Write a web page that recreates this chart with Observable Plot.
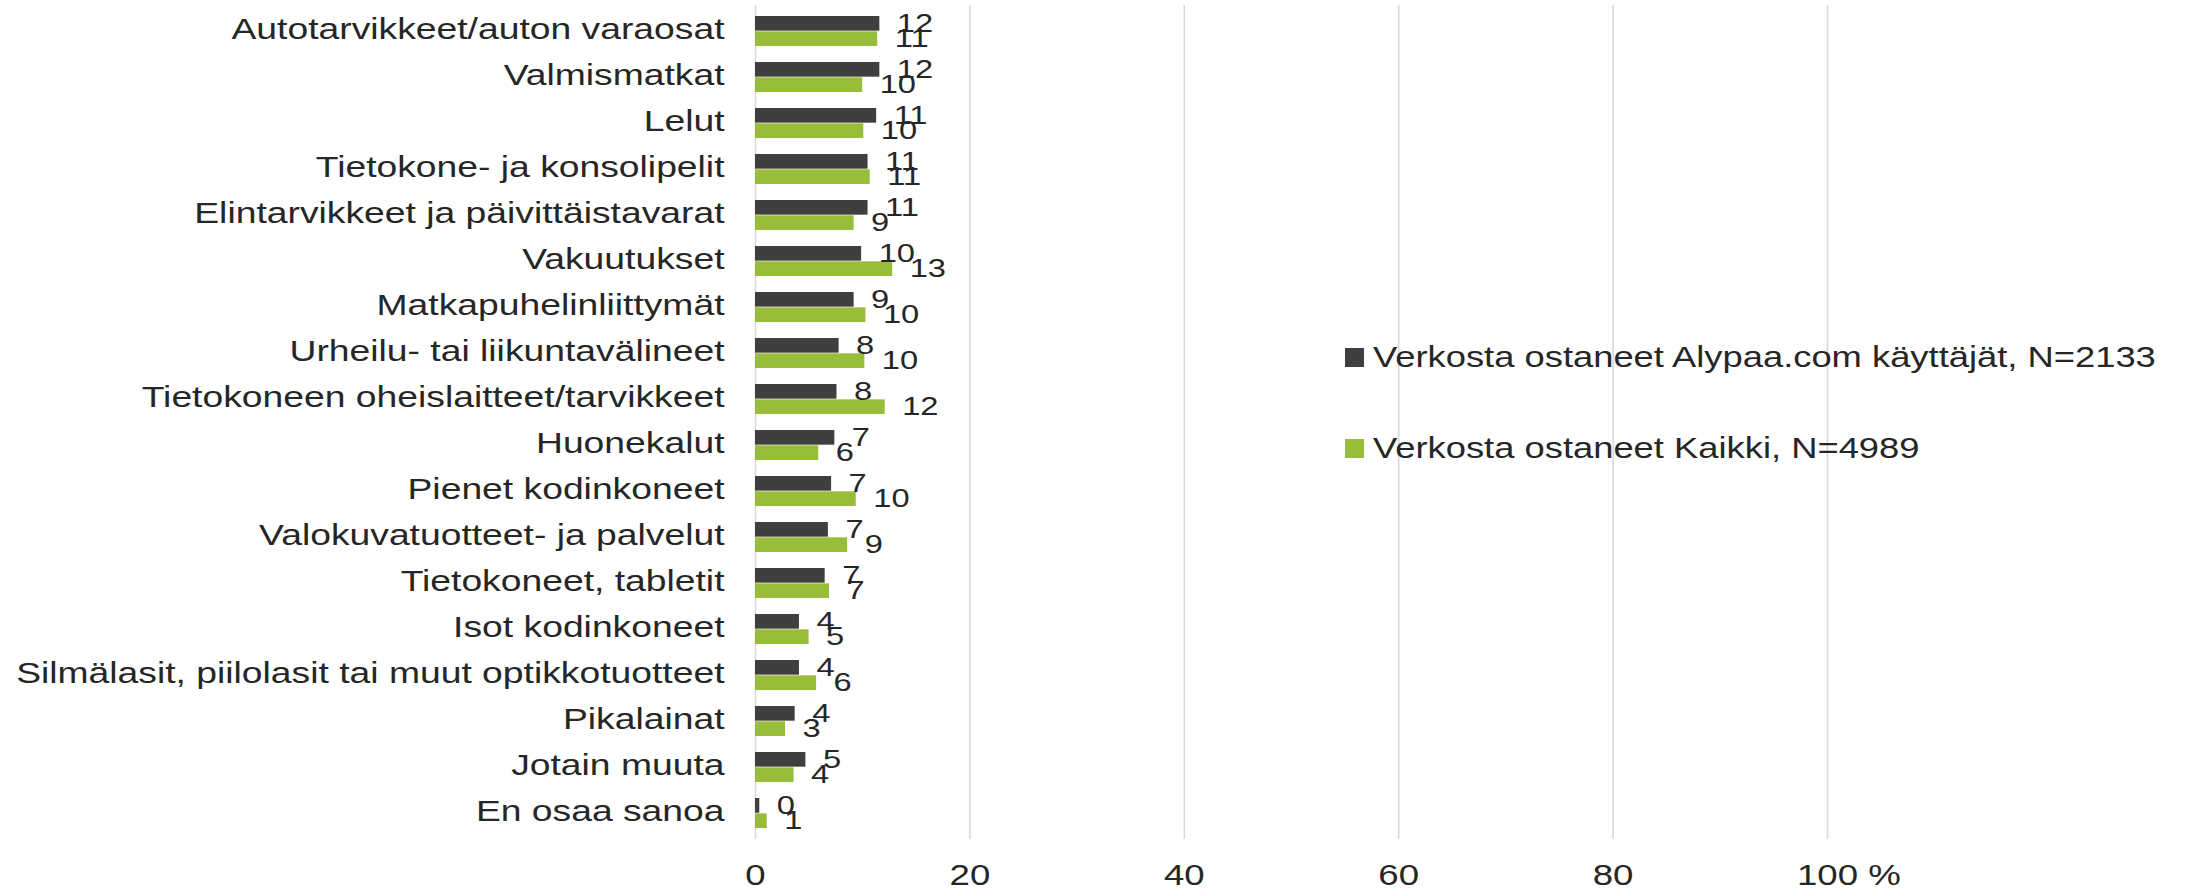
<!DOCTYPE html>
<html><head><meta charset="utf-8">
<script src="https://cdn.jsdelivr.net/npm/d3@7"></script>
<script src="https://cdn.jsdelivr.net/npm/@observablehq/plot@0.6"></script>
<style>
body{margin:0;background:#fff;}
#wrap{position:relative;width:2209px;height:892px;font-family:"Liberation Sans",Arial,sans-serif;}
.item{position:absolute;left:1345px;height:30px;display:flex;align-items:center;white-space:nowrap;font-size:28.8px;color:#262626;}
.sw{width:19px;height:19px;margin-right:9px;flex:none;}
.lt{display:inline-block;transform:scaleX(1.262);transform-origin:left center;}
</style></head><body><div id="wrap"></div>
<script>
const categories = [
  "Autotarvikkeet/auton varaosat",
  "Valmismatkat",
  "Lelut",
  "Tietokone- ja konsolipelit",
  "Elintarvikkeet ja päivittäistavarat",
  "Vakuutukset",
  "Matkapuhelinliittymät",
  "Urheilu- tai liikuntavälineet",
  "Tietokoneen oheislaitteet/tarvikkeet",
  "Huonekalut",
  "Pienet kodinkoneet",
  "Valokuvatuotteet- ja palvelut",
  "Tietokoneet, tabletit",
  "Isot kodinkoneet",
  "Silmälasit, piilolasit tai muut optikkotuotteet",
  "Pikalainat",
  "Jotain muuta",
  "En osaa sanoa"
];
const alypaa = [11.6, 11.6, 11.3, 10.5, 10.5, 9.9, 9.2, 7.8, 7.6, 7.4, 7.1, 6.8, 6.5, 4.1, 4.1, 3.7, 4.7, 0.4];
const kaikki = [11.4, 10.0, 10.1, 10.7, 9.2, 12.8, 10.3, 10.2, 12.1, 5.9, 9.4, 8.6, 6.9, 5.0, 5.7, 2.8, 3.6, 1.1];
const alypaaLabels = ["12","12","11","11","11","10","9","8","8","7","7","7","7","4","4","4","5","0"];
const kaikkiLabels = ["11","10","10","11","9","13","10","10","12","6","10","9","7","5","6","3","4","1"];
const seriesNames = ["Verkosta ostaneet Alypaa.com käyttäjät, N=2133", "Verkosta ostaneet Kaikki, N=4989"];
const seriesColors = ["#3f3f3f", "#98bd3b"];
const xTicks = [0, 20, 40, 60, 80, 100];
const unitLabel = "%";

const rows = categories.map((c, i) => ({category: c, a: alypaa[i], k: kaikki[i], al: alypaaLabels[i], kl: kaikkiLabels[i]}));
const half = 15.33;
const textColor = "#262626";

const chart = Plot.plot({
  width: 2209, height: 892,
  marginLeft: 755, marginRight: 382, marginTop: 5, marginBottom: 53,
  style: {fontFamily: "'Liberation Sans', Arial, sans-serif", color: textColor, background: "#fff"},
  x: {domain: [0, 100]},
  y: {domain: categories, paddingInner: 0.338, paddingOuter: 0.169},
  marks: [
    Plot.gridX(xTicks, {stroke: "#d9d9d9", strokeOpacity: 1, strokeWidth: 1.6}),
    Plot.barX(rows, {x: "a", y: "category", fill: seriesColors[0], insetBottom: half}),
    Plot.barX(rows, {x: "k", y: "category", fill: seriesColors[1], insetTop: half}),
    Plot.text(rows, {x: "a", y: "category", text: "al", dy: -half / 2, dx: 17, textAnchor: "start", fontSize: 25.5, fill: textColor}),
    Plot.text(rows, {x: "k", y: "category", text: "kl", dy: half / 2, dx: 17, textAnchor: "start", fontSize: 25.5, fill: textColor}),
    Plot.axisY({tickSize: 0, tickPadding: 31, fontSize: 29, dy: -2, label: null}),
    Plot.axisX(xTicks, {tickSize: 0, tickPadding: 25, fontSize: 28.6, label: null}),
    Plot.axisX([100], {tickSize: 0, tickPadding: 25, fontSize: 28.6, tickFormat: () => unitLabel, dx: 57, label: null})
  ]
});

const wrap = document.getElementById("wrap");
wrap.appendChild(chart);
// the reference text glyphs are horizontally widened
chart.querySelectorAll("text").forEach(t => {
  const L = t.getComputedTextLength();
  const fs = parseFloat(getComputedStyle(t).fontSize);
  const k = fs >= 29 ? 1.285 : 1.28;
  if (L > 0) {
    t.setAttribute("textLength", (L * k).toFixed(2));
    t.setAttribute("lengthAdjust", "spacingAndGlyphs");
  }
});

const legendCenters = [357.5, 448.5];
seriesNames.forEach((name, i) => {
  const item = document.createElement("div");
  item.className = "item";
  item.style.top = (legendCenters[i] - 15) + "px";
  const sw = document.createElement("span");
  sw.className = "sw";
  sw.style.background = seriesColors[i];
  const lt = document.createElement("span");
  lt.className = "lt";
  lt.textContent = name;
  item.appendChild(sw);
  item.appendChild(lt);
  wrap.appendChild(item);
});
</script>
</body></html>
